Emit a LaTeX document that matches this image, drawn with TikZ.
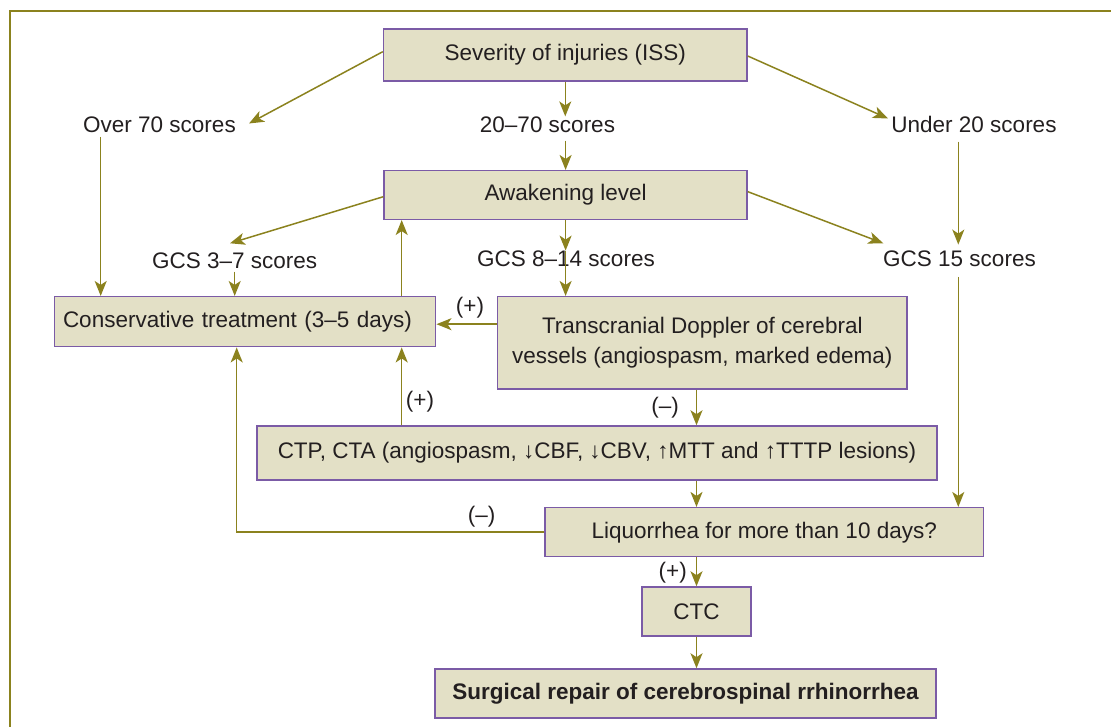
\documentclass[tikz,border=0pt]{standalone}
\usepackage{fontspec}
\setmainfont{Liberation Sans}
\usetikzlibrary{arrows.meta,calc}
\definecolor{olivec}{RGB}{139,130,30}
\definecolor{boxfill}{RGB}{227,224,198}
\definecolor{boxline}{RGB}{123,91,166}
\definecolor{txt}{RGB}{35,31,32}
\begin{document}
\begin{tikzpicture}[x=1pt,y=-1pt,
  box/.style={draw=boxline, fill=boxfill, line width=1.5pt, rectangle, text=txt,
    font=\fontsize{22.5}{30}\selectfont, inner sep=0pt, align=center},
  lbl/.style={text=txt, font=\fontsize{22.5}{27}\selectfont, inner sep=0pt},
  arr/.style={draw=olivec, line width=1.5pt, -{Stealth[length=15pt,width=12pt,inset=4pt]}},
  frame/.style={draw=olivec, line width=2pt}]
\useasboundingbox (0,0) rectangle (1111,727);
\draw[frame] (10,728) -- (10,11) -- (1112,11);

% boxes
\node[box, minimum width=363.5, minimum height=52] (iss) at (565.25,55) {Severity of injuries (ISS)};
\node[box, minimum width=363, minimum height=48.6] (awake) at (565.6,195) {Awakening level};
\node[box, minimum width=381.4, minimum height=50, text width=364, align=left, inner xsep=8.7pt] (cons) at (245,321.7) {Conservative treatment (3--5 days)};
\node[box, minimum width=409.3, minimum height=92.3] (dop) at (702.3,342.8) {Transcranial Doppler of cerebral\\vessels (angiospasm, marked edema)};
\node[box, minimum width=680, minimum height=54] (ctp) at (597,453) {CTP, CTA (angiospasm, ↓CBF, ↓CBV, ↑MTT and ↑TTTP lesions)};
\node[box, minimum width=438.5, minimum height=49] (liq) at (764.25,532.2) {Liquorrhea for more than 10 days?};
\node[box, minimum width=109, minimum height=49] (ctc) at (696.5,611.5) {CTC};
\node[box, minimum width=501, minimum height=49, font=\fontsize{22.5}{30}\selectfont\bfseries] (surg) at (685.5,693.5) {Surgical repair of cerebrospinal rrhinorrhea};

% score labels
\node[lbl, anchor=base] (over70) at (159.5,132.3) {Over 70 scores};
\node[lbl, anchor=base] (r2070) at (547.5,132.3) {20--70 scores};
\node[lbl, anchor=base] (under20) at (974,132.3) {Under 20 scores};
\node[lbl, anchor=base] (g37) at (234.7,268.8) {GCS 3--7 scores};
\node[lbl, anchor=base] (g814) at (566,266.5) {GCS 8--14 scores};
\node[lbl, anchor=base] (g15) at (959.5,266.5) {GCS 15 scores};

% helper coordinates
\coordinate (a70) at (249,123.5);
\coordinate (a20) at (888,118.5);
\coordinate (c70) at (100.7,137);
\coordinate (c20) at (958.3,141.7);
\coordinate (a37) at (230,243.3);
\coordinate (a15) at (883.3,243.3);
\coordinate (xu) at (401.7,0);
\coordinate (xl) at (236.7,0);
\coordinate (xd) at (696.5,0);

% connectors
\draw[arr] ([yshift=3.3pt]iss.west) -- (a70);
\draw[arr] ([yshift=-1pt]iss.east) -- (a20);
\draw[arr] (iss.south) -- (iss.south |- r2070.north);
\draw[arr] ($(awake.north |- r2070.south)+(0,8)$) -- (awake.north);
\draw[arr] (c70) -- (c70 |- cons.north);
\draw[arr] (c20) -- ($(c20 |- g15.north)+(0,-6)$);
\draw[arr] ($(c20 |- g15.south)+(0,10)$) -- (c20 |- liq.north);
\draw[arr] ([yshift=-1.7pt]awake.west) -- (a37);
\draw[arr] ([yshift=3.3pt]awake.east) -- (a15);
\draw[arr] (awake.south) -- (awake.south |- g814.north);
\draw[arr] (awake.south |- g814.north) -- (awake.south |- dop.north);
\draw[arr] ($(g37.south)+(0,2.5)$) -- (g37.south |- cons.north);
\draw[arr] (xu |- cons.north) -- (xu |- awake.south);
\draw[arr] ($(dop.west |- cons.east)+(0,2.5)$) -- ($(cons.east)+(0,2.5)$);
\draw[arr] (xd |- dop.south) -- (xd |- ctp.north);
\draw[arr] (xu |- ctp.north) -- (xu |- cons.south);
\draw[arr] (xd |- ctp.south) -- (xd |- liq.north);
\draw[arr] (liq.west) -| (xl |- cons.south);
\draw[arr] (xd |- liq.south) -- (ctc.north);
\draw[arr] (ctc.south) -- (ctc.south |- surg.north);

% connector labels
\node[lbl] (pA) at (470,308) {(+)};
\node[lbl] (mA) at (665,408) {(--)};
\node[lbl] (pB) at (420,401.7) {(+)};
\node[lbl] (mB) at (481.7,517) {(--)};
\node[lbl] (pC) at (672.8,573) {(+)};
\end{tikzpicture}
\end{document}
